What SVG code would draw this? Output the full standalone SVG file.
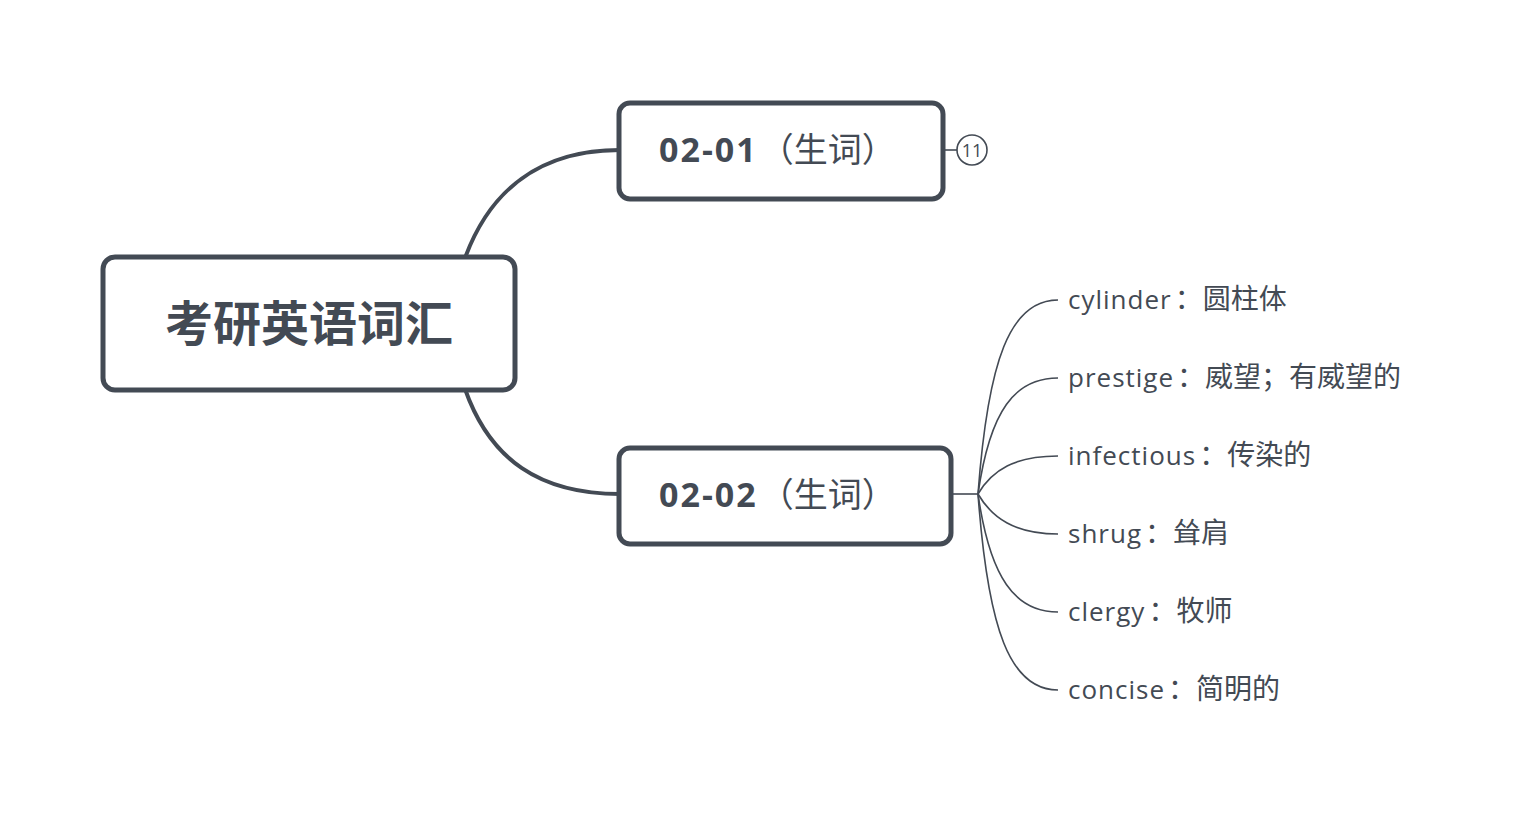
<svg xmlns="http://www.w3.org/2000/svg" width="1518" height="820" viewBox="0 0 1518 820">
<style>
.box{fill:#fff;stroke:#434a54;stroke-width:5}
.main{stroke:#434a54;stroke-width:4;fill:none}
.thin{stroke:#434a54;stroke-width:1.6;fill:none}
.t{font-family:"Open Sans","Noto Sans CJK SC",sans-serif;fill:#434a54}
.leaf{font-family:"Open Sans","Noto Sans CJK SC",sans-serif;fill:#434a54;font-size:26px;letter-spacing:1px}
.cj{font-size:28px;letter-spacing:0}
.lat{letter-spacing:2px}
</style>
<rect width="1518" height="820" fill="#fff"/>
<g id="connectors">
<path class="main" d="M465,258 C490,190 540,150 620,150"/>
<path class="main" d="M465,389 C490,460 540,494 620,494"/>
<path class="thin" d="M944,150 H957"/>
<path class="thin" d="M952,494 H978"/>
<path class="thin" d="M978,494 C988,360 1010,300 1058,300"/>
<path class="thin" d="M978,494 C990,410 1015,378 1058,378"/>
<path class="thin" d="M978,494 C992,470 1015,456 1058,456"/>
<path class="thin" d="M978,494 C992,518 1015,534 1058,534"/>
<path class="thin" d="M978,494 C990,578 1015,612 1058,612"/>
<path class="thin" d="M978,494 C988,630 1010,690 1058,690"/>
</g>
<g id="root">
<rect class="box" x="103" y="257" width="412" height="133" rx="12"/>
<text class="t" x="309" y="341" font-size="48" font-weight="bold" text-anchor="middle">考研英语词汇</text>
</g>
<g id="n1">
<rect class="box" x="619" y="103" width="324" height="96" rx="11"/>
<text class="t" x="659" y="162" font-size="34"><tspan class="lat" font-weight="bold">02-01</tspan><tspan dx="2">（生词）</tspan></text>
</g>
<g id="collapse">
<circle cx="972" cy="150" r="15" fill="#fff" stroke="#434a54" stroke-width="1.6"/>
<text class="t" x="972" y="157" font-size="18" text-anchor="middle">11</text>
</g>
<g id="n2">
<rect class="box" x="619" y="448" width="332" height="96" rx="11"/>
<text class="t" x="659" y="507" font-size="34"><tspan class="lat" font-weight="bold">02-02</tspan><tspan dx="2">（生词）</tspan></text>
</g>
<g id="leaf1"><text class="leaf" x="1068" y="309">cylinder<tspan class="cj" dx="3">：圆柱体</tspan></text></g>
<g id="leaf2"><text class="leaf" x="1068" y="387">prestige<tspan class="cj" dx="3">：威望；有威望的</tspan></text></g>
<g id="leaf3"><text class="leaf" x="1068" y="465">infectious<tspan class="cj" dx="3">：传染的</tspan></text></g>
<g id="leaf4"><text class="leaf" x="1068" y="543">shrug<tspan class="cj" dx="3">：耸肩</tspan></text></g>
<g id="leaf5"><text class="leaf" x="1068" y="621">clergy<tspan class="cj" dx="3">：牧师</tspan></text></g>
<g id="leaf6"><text class="leaf" x="1068" y="699">concise<tspan class="cj" dx="3">：简明的</tspan></text></g>
</svg>
